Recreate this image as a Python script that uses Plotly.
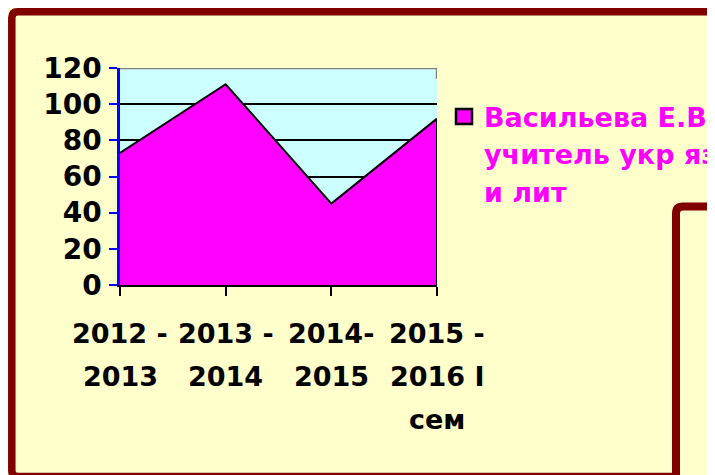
import plotly.graph_objects as go

# ---------------- data ----------------
x_label_lines = [["2012 -", "2013"], ["2013 -", "2014"], ["2014-", "2015"], ["2015 -", "2016 I", "сем"]]
categories = [" ".join(l) for l in x_label_lines]
values = [73, 111, 45, 92]
y_ticks = [0, 20, 40, 60, 80, 100, 120]
legend_lines = ["Васильева Е.В", "учитель укр яз", "и лит"]
series_name = " ".join(legend_lines)

# ---------------- layout geometry ----------------
# the page adds an 8px body margin, so the figure is laid out in coordinates shifted by OFF
OFF = 8
W, H = 715 - OFF, 475 - OFF
L, T = 120 - OFF, 68 - OFF
R = W - (437 - OFF)
B = H - (285 - OFF)
PW = W - L - R
PH = H - T - B

CREAM = "#FFFFCC"
MAROON = "#800000"
MAGENTA = "#FF00FF"
FONT = "DejaVu Sans"


def px(xr):
    """reference-picture x pixel -> paper fraction"""
    return (xr - OFF - L) / PW


def py(yr):
    """reference-picture y pixel -> paper fraction"""
    return (H - B - (yr - OFF)) / PH


def rounded_rect(x0, y0, x1, y1, r):
    return (f"M {px(x0 + r)},{py(y0)} L {px(x1 - r)},{py(y0)} "
            f"Q {px(x1)},{py(y0)} {px(x1)},{py(y0 + r)} L {px(x1)},{py(y1 - r)} "
            f"Q {px(x1)},{py(y1)} {px(x1 - r)},{py(y1)} L {px(x0 + r)},{py(y1)} "
            f"Q {px(x0)},{py(y1)} {px(x0)},{py(y1 - r)} L {px(x0)},{py(y0 + r)} "
            f"Q {px(x0)},{py(y0)} {px(x0 + r)},{py(y0)} Z")


xi = list(range(len(categories)))

fig = go.Figure()
fig.add_trace(go.Scatter(
    x=xi, y=values, name=series_name, mode="lines",
    fill="tozeroy", fillcolor=MAGENTA,
    line=dict(color="black", width=2),
    showlegend=False, hoverinfo="skip",
))

shapes = [
    # outer frame
    dict(type="path", xref="paper", yref="paper", path=rounded_rect(11.8, 11.8, 730, 476.5, 6),
         line=dict(color=MAROON, width=7.5), fillcolor="rgba(0,0,0,0)", layer="below"),
    # second (overlapping) frame at the lower right
    dict(type="path", xref="paper", yref="paper", path=rounded_rect(676, 206.5, 740, 500, 7),
         line=dict(color=MAROON, width=8), fillcolor=CREAM, layer="above"),
    # grey plot-area border (top and a bit of the right)
    dict(type="line", xref="x", yref="y", x0=0, x1=len(categories) - 1, y0=y_ticks[-1], y1=y_ticks[-1],
         line=dict(color="#808080", width=2.5), layer="between"),
    dict(type="line", xref="x", yref="y", x0=len(categories) - 1, x1=len(categories) - 1,
         y0=y_ticks[-1], y1=114, line=dict(color="#808080", width=2.5), layer="between"),
    # right edge of the area outline
    dict(type="line", xref="x", yref="y", x0=len(categories) - 1, x1=len(categories) - 1,
         y0=0, y1=values[-1], line=dict(color="black", width=2), layer="above"),
    # legend key
    dict(type="rect", xref="paper", yref="paper", x0=px(456), x1=px(472), y0=py(124), y1=py(109),
         fillcolor=MAGENTA, line=dict(color="black", width=2.5), layer="above"),
]

annotations = []
for i, lines in enumerate(x_label_lines):
    for k, txt in enumerate(lines):
        annotations.append(dict(
            x=i, y=0, xref="x", yref="paper", text=txt, showarrow=False,
            xanchor="center", yanchor="middle", yshift=-(48 + 43 * k),
            font=dict(family=FONT, size=27, color="black", weight="bold"),
        ))

for k, txt in enumerate(legend_lines):
    annotations.append(dict(
        x=px(484), y=py(117 + 37.5 * k), xref="paper", yref="paper", text=txt, showarrow=False,
        xanchor="left", yanchor="middle", xshift=-2,
        font=dict(family=FONT, size=27, color=MAGENTA, weight="bold"),
    ))

fig.update_layout(
    width=W, height=H,
    margin=dict(l=L, r=R, t=T, b=B, autoexpand=False),
    paper_bgcolor=CREAM, plot_bgcolor="#CCFFFF",
    showlegend=False,
    shapes=shapes, annotations=annotations,
    xaxis=dict(
        type="linear", range=[0, len(categories) - 1], tickvals=xi, showticklabels=False,
        showgrid=False, zeroline=False, showline=True, linecolor="black", linewidth=2,
        ticks="outside", ticklen=9, tickwidth=2, tickcolor="black",
    ),
    yaxis=dict(
        range=[y_ticks[0], y_ticks[-1]], tickvals=y_ticks, showgrid=True, gridcolor="black", gridwidth=2,
        zeroline=False, showline=True, linecolor="#0000FF", linewidth=2.5,
        ticks="outside", ticklen=8, tickwidth=2, tickcolor="#0000FF", ticklabelstandoff=2,
        tickfont=dict(family=FONT, size=28, color="black", weight="bold"),
    ),
)

fig.write_html("out.html")
